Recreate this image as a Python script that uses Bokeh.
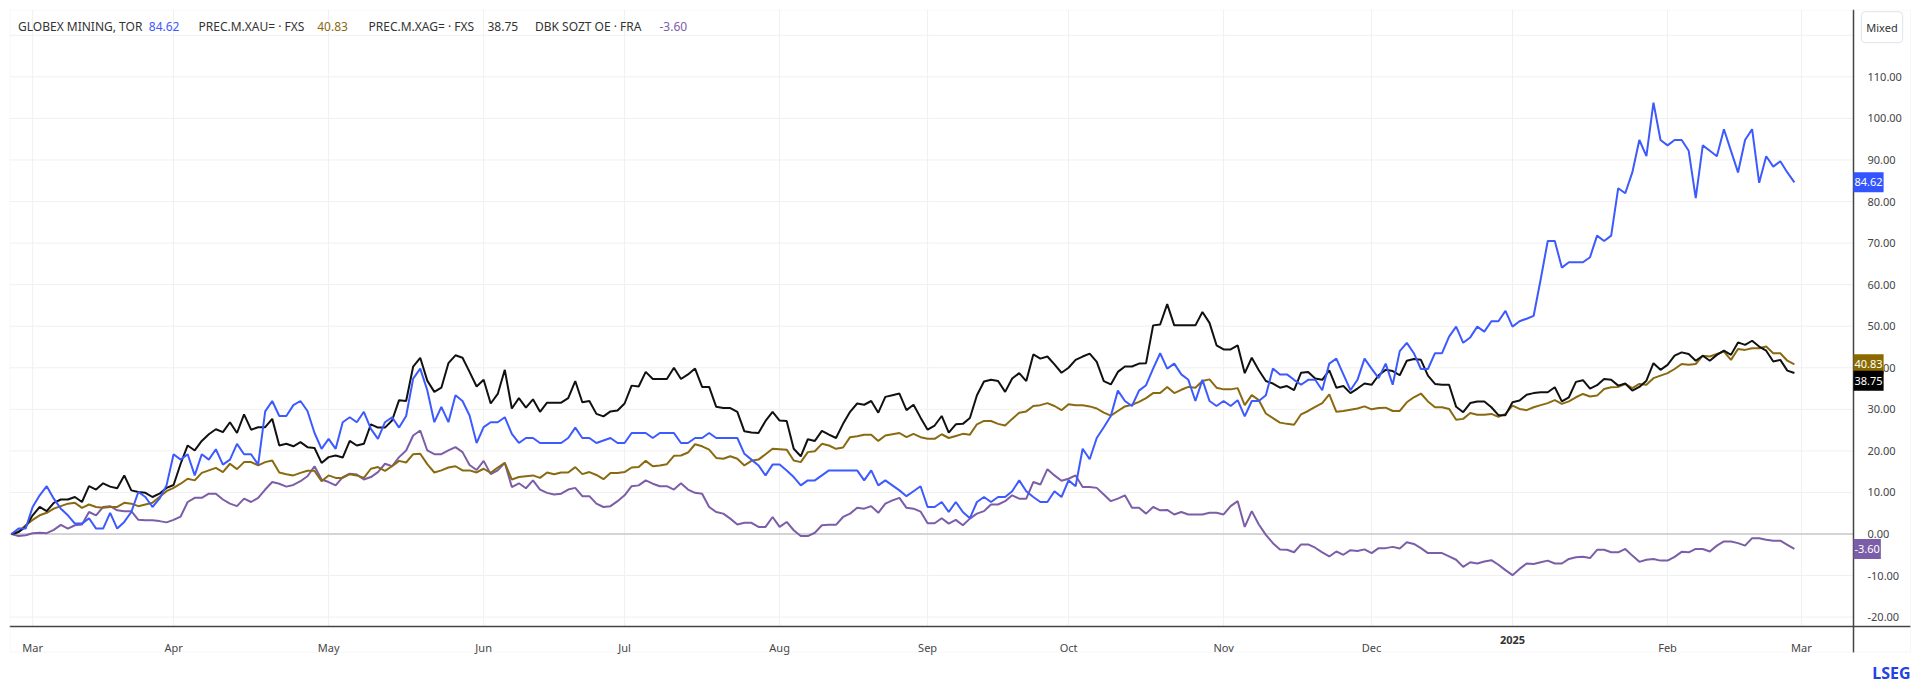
import numpy as np
import pandas as pd
from bokeh.plotting import figure
from bokeh.models import (Range1d, FixedTicker, NumeralTickFormatter, Label,
                          BoxAnnotation, LinearAxis)
from bokeh.embed import file_html
from bokeh.resources import INLINE

# ---------------- data ----------------
# TSX trading calendar (Feb 27 2024 .. Mar 3 2025)
HOLIDAYS = ["2024-03-29", "2024-05-20", "2024-07-01", "2024-08-05", "2024-09-02",
            "2024-10-14", "2024-12-25", "2024-12-26", "2025-01-01", "2025-02-17"]
_all = pd.bdate_range("2024-02-27", "2025-03-03")
trading_days = _all[~_all.isin(pd.to_datetime(HOLIDAYS))]

series_names = ["GLOBEX MINING, TOR", "PREC.M.XAU= \u00b7 FXS", "PREC.M.XAG= \u00b7 FXS", "DBK SOZT OE \u00b7 FRA"]
series_colors = ["#3d5afe", "#8a6a10", "#111111", "#7b5ea7"]

globex = [0, 1.3, 1.3, 6.5, 9.3, 11.5, 8.5, 6.1, 4.5, 2.5, 2.5, 3.8, 1.3, 1.3, 5.1, 1.3, 2.9, 5.3, 10.1, 8.9,
          6.5, 8.5, 11.7, 19.2, 17.9, 19.2, 14.1, 19.2, 17.9, 20.4, 16.7, 17.9, 21.7, 19.2, 19.2, 16.7, 29.5, 32.0, 28.4, 28.4,
          31.0, 32.0, 29.6, 24.3, 20.5, 22.9, 20.5, 26.9, 28.1, 26.9, 29.4, 25.3, 22.9, 26.9, 28.1, 25.6, 28.4, 37.4, 39.8, 34.6,
          26.9, 30.6, 26.9, 33.4, 32.0, 28.5, 21.9, 25.7, 26.9, 26.9, 28.1, 24.1, 21.9, 23.1, 23.1, 21.9, 21.9, 21.9, 21.9, 23.1,
          25.6, 23.1, 23.1, 21.9, 22.5, 23.1, 21.9, 21.9, 24.3, 24.3, 24.3, 23.1, 24.3, 24.3, 24.3, 21.9, 21.9, 23.1, 23.1, 24.3,
          23.1, 23.1, 23.1, 23.1, 19.3, 17.9, 16.5, 14.1, 16.7, 16.7, 15.3, 13.7, 11.7, 12.9, 12.9, 14.1, 15.3, 15.3, 15.3, 15.3,
          15.3, 12.9, 15.3, 11.7, 12.9, 11.7, 10.5, 9.1, 10.3, 11.5, 6.5, 6.5, 7.7, 5.3, 7.7, 5.3, 3.8, 7.7, 8.9, 7.7,
          8.9, 8.9, 10.3, 12.9, 10.3, 8.9, 7.7, 7.7, 10.3, 8.9, 12.9, 11.5, 20.5, 18.0, 23.1, 25.7, 28.4, 34.5, 32.0, 30.8,
          34.5, 35.8, 39.8, 43.5, 39.8, 41.0, 38.4, 37.1, 32.0, 37.1, 32.0, 30.8, 32.0, 30.8, 32.2, 28.3, 32.0, 32.0, 33.4, 39.8,
          38.4, 38.4, 37.1, 35.9, 37.1, 37.1, 34.6, 41.0, 42.2, 38.4, 34.6, 37.1, 42.2, 39.8, 37.5, 41.0, 35.9, 44.0, 46.0, 43.5,
          39.7, 39.7, 43.5, 43.5, 47.5, 49.9, 46.0, 47.3, 49.9, 48.7, 51.2, 51.2, 53.7, 49.9, 51.2, 51.8, 52.5, 61.3, 70.5, 70.5,
          64.1, 65.4, 65.4, 65.4, 66.6, 71.8, 70.5, 71.8, 83.2, 82.0, 87.0, 94.8, 90.9, 103.8, 94.8, 93.5, 94.8, 94.8, 92.2, 80.8,
          93.5, 92.2, 90.9, 97.4, 92.2, 87.0, 94.8, 97.4, 84.5, 90.9, 88.4, 89.7, 87.0, 84.62]

xau = [0, 0.5, 2.1, 3.4, 4.5, 5.1, 6.1, 6.7, 7.3, 7.5, 6.3, 7.1, 6.5, 6.3, 6.5, 6.5, 7.5, 7.3, 6.7, 7.1,
       7.5, 8.9, 10.3, 11.1, 12.1, 13.3, 12.9, 14.7, 15.3, 15.9, 14.9, 16.9, 15.6, 17.3, 17.3, 16.5, 17.3, 17.7, 14.8, 14.4,
       14.1, 14.7, 15.2, 15.2, 12.7, 14.1, 13.5, 13.5, 14.4, 14.1, 13.5, 15.7, 16.1, 15.2, 16.3, 17.6, 17.2, 19.2, 19.3, 16.8,
       14.8, 15.3, 16.0, 16.3, 15.3, 15.3, 14.8, 15.7, 14.7, 16.0, 17.1, 13.1, 13.7, 13.9, 14.1, 13.5, 14.8, 14.4, 14.8, 14.8,
       16.1, 14.4, 14.9, 14.2, 13.2, 14.7, 14.7, 14.9, 16.0, 16.1, 17.6, 16.3, 16.5, 16.8, 18.8, 18.9, 19.6, 21.6, 21.1, 20.3,
       18.3, 18.1, 18.7, 18.1, 16.5, 17.6, 17.9, 19.2, 20.5, 20.4, 20.3, 17.7, 17.3, 19.7, 19.9, 21.7, 21.3, 20.5, 20.8, 23.3,
       23.5, 23.9, 23.9, 22.4, 23.7, 24.0, 24.3, 23.3, 24.1, 23.3, 22.9, 22.9, 24.0, 23.1, 23.6, 24.1, 23.9, 26.4, 27.2, 27.2,
       26.5, 26.1, 27.7, 29.2, 29.5, 30.8, 31.0, 31.5, 30.8, 29.8, 31.2, 31.0, 31.0, 30.7, 30.2, 29.2, 28.5, 29.6, 30.7, 31.1,
       31.8, 32.7, 33.9, 33.9, 35.4, 33.9, 34.7, 35.4, 35.2, 36.8, 37.2, 35.2, 34.8, 34.8, 35.1, 31.0, 33.4, 32.2, 29.0, 27.9,
       26.8, 26.5, 26.3, 28.8, 29.6, 30.6, 31.5, 33.6, 29.4, 29.6, 29.9, 30.2, 30.7, 30.0, 30.3, 30.4, 29.6, 29.6, 31.7, 32.9,
       33.8, 31.9, 30.5, 30.5, 30.1, 27.5, 27.7, 29.1, 28.7, 28.7, 28.9, 28.2, 28.9, 30.9, 30.1, 29.8, 30.5, 31.0, 31.5, 32.2,
       31.3, 31.9, 32.9, 33.7, 33.1, 33.3, 34.9, 35.3, 35.4, 36.1, 35.1, 36.1, 35.9, 37.5, 38.1, 38.7, 39.7, 40.9, 40.7, 40.9,
       42.9, 42.7, 43.3, 43.9, 41.9, 44.5, 44.3, 44.7, 44.7, 45.1, 43.5, 43.5, 41.7, 40.83]

xag = [0, 0.5, 1.7, 4.5, 6.5, 5.5, 7.5, 8.3, 8.3, 8.9, 7.7, 11.5, 10.7, 12.2, 11.4, 11.0, 14.1, 10.5, 10.1, 9.9,
       8.9, 9.7, 11.1, 11.8, 16.9, 21.3, 20.1, 22.4, 24.0, 25.2, 24.5, 26.9, 24.3, 28.8, 25.1, 25.7, 25.7, 27.7, 21.3, 21.7,
       21.1, 22.1, 20.9, 20.7, 17.1, 18.5, 18.9, 18.4, 22.4, 21.3, 21.7, 26.4, 25.6, 25.6, 27.3, 32.2, 32.0, 40.3, 42.4, 36.9,
       34.2, 35.2, 41.1, 43.0, 42.4, 39.0, 35.5, 37.1, 31.4, 33.7, 39.5, 30.2, 32.7, 30.4, 32.4, 29.4, 31.6, 31.6, 31.6, 32.7,
       36.8, 31.7, 32.0, 28.9, 28.3, 29.5, 29.7, 31.4, 35.7, 35.5, 39.0, 37.3, 37.3, 37.3, 40.0, 37.3, 38.4, 39.8, 35.4, 35.4,
       30.6, 30.3, 30.3, 29.4, 24.7, 24.4, 24.3, 27.2, 29.4, 27.3, 27.2, 20.5, 18.7, 22.8, 22.4, 24.8, 23.9, 23.1, 26.5, 29.4,
       31.4, 31.1, 32.0, 29.2, 33.0, 33.4, 33.8, 29.8, 31.1, 28.0, 25.1, 26.1, 28.4, 24.4, 26.4, 26.5, 27.9, 33.4, 36.7, 37.1,
       36.8, 34.2, 37.4, 38.7, 36.8, 43.2, 42.2, 42.7, 40.8, 38.8, 40.0, 41.9, 42.7, 43.4, 41.4, 36.8, 36.0, 39.0, 40.3, 40.3,
       41.0, 41.1, 50.2, 50.4, 55.3, 50.2, 50.2, 50.2, 50.2, 53.4, 50.8, 45.4, 44.4, 44.4, 45.4, 38.7, 42.4, 39.4, 36.8, 36.2,
       35.2, 35.6, 34.6, 38.8, 39.0, 37.4, 37.1, 39.4, 35.2, 35.6, 33.9, 35.0, 36.2, 35.9, 38.2, 39.5, 39.2, 38.2, 41.7, 42.1,
       41.9, 38.1, 36.1, 35.9, 35.9, 30.6, 29.3, 31.5, 31.9, 31.9, 30.5, 28.6, 28.6, 31.7, 32.1, 33.5, 33.9, 34.1, 34.1, 35.3,
       31.9, 32.9, 36.6, 37.0, 35.0, 35.8, 37.3, 37.1, 35.7, 36.2, 34.5, 35.4, 36.9, 41.1, 39.5, 40.7, 42.9, 43.7, 43.3, 41.7,
       42.9, 41.7, 43.1, 44.1, 43.1, 46.1, 45.5, 46.5, 45.1, 44.1, 41.5, 41.9, 39.3, 38.75]

dbk = [0, -0.5, -0.3, 0.2, 0.3, 0.2, 1.0, 2.2, 1.3, 2.1, 2.3, 5.3, 4.5, 6.5, 6.7, 5.7, 5.5, 5.5, 3.4, 3.3,
       3.3, 3.1, 2.8, 3.4, 4.2, 7.7, 8.7, 8.7, 9.7, 9.7, 8.3, 7.3, 6.7, 8.5, 7.7, 8.7, 10.7, 12.5, 12.1, 11.4,
       11.8, 12.7, 13.9, 16.3, 13.1, 12.5, 11.7, 13.7, 14.5, 14.3, 13.1, 13.7, 14.9, 16.9, 16.3, 18.5, 20.1, 23.7, 24.9, 20.1,
       19.2, 19.2, 20.1, 20.9, 19.7, 16.6, 15.4, 17.6, 14.4, 15.3, 17.1, 11.3, 12.2, 11.0, 12.9, 10.7, 9.9, 9.5, 9.7, 10.7,
       11.1, 9.1, 9.1, 7.3, 6.5, 6.7, 7.9, 9.3, 11.5, 11.7, 12.9, 12.1, 11.5, 11.5, 10.7, 12.2, 10.7, 9.9, 9.7, 6.5,
       5.3, 4.9, 3.7, 2.3, 2.7, 2.7, 1.7, 1.7, 4.1, 1.7, 2.9, 0.9, -0.5, -0.5, 0.3, 2.1, 2.2, 2.2, 4.1, 4.9,
       6.3, 6.1, 6.7, 5.1, 7.3, 8.1, 8.7, 6.3, 6.1, 5.4, 2.6, 2.6, 3.8, 2.5, 3.4, 2.1, 3.7, 4.9, 5.5, 7.1,
       7.1, 7.9, 9.3, 8.5, 8.5, 12.5, 11.9, 15.6, 14.1, 12.8, 13.3, 14.1, 11.3, 11.3, 11.1, 9.5, 7.9, 8.5, 9.3, 6.3,
       6.3, 4.9, 6.5, 5.7, 5.8, 4.7, 5.3, 4.7, 4.7, 4.7, 5.1, 5.1, 4.7, 6.7, 7.9, 1.7, 5.5, 2.3, -0.2, -2.2,
       -3.7, -3.8, -4.4, -2.5, -2.5, -3.3, -4.4, -5.4, -4.2, -5.0, -3.9, -4.1, -3.7, -4.6, -3.4, -3.4, -3.1, -3.5, -2.0, -2.4,
       -3.4, -4.6, -4.6, -4.6, -5.4, -6.2, -7.9, -6.8, -7.1, -6.6, -6.3, -7.4, -8.7, -9.9, -8.4, -7.1, -7.2, -6.8, -6.4, -7.1,
       -7.1, -6.0, -5.6, -5.5, -5.8, -3.8, -3.8, -4.4, -4.4, -3.6, -5.2, -6.7, -6.2, -6.0, -6.4, -6.4, -5.5, -4.3, -4.4, -3.6,
       -3.6, -4.2, -2.8, -1.8, -1.8, -2.2, -2.8, -1.0, -1.0, -1.4, -1.6, -1.6, -2.6, -3.6]

y_ticks = list(range(-20, 111, 10))
grid_ticks = list(range(-20, 121, 10))

# ---------------- layout constants (page pixels) ----------------
W, H = 1920, 684
FL, FT = 9, 9                 # frame left / top
FW, FH = W - 2 * FL, H - FT   # frame covers the whole chart box incl. price axis strip
PX_PER_DAY = 7.047
PX_PER_UNIT = 4.156
X0_PIX, Y0_PIX = 11.0, 533.5  # pixel of first trading day / of 0 %
AXIS_X_PIX, AXIS_Y_PIX = 1853.0, 626.0
BOX_RIGHT_PIX, BOX_BOTTOM_PIX = 1910.0, 651.7


def dx(px):
    return (px - X0_PIX) / PX_PER_DAY


def dy(py):
    return (Y0_PIX - py) / PX_PER_UNIT


def sx(px):
    return px - FL


def sy(py):
    return H - py


# ---------------- derived ----------------
n = len(globex)
x = np.arange(n)
month_ticks = [i for i in range(1, len(trading_days))
               if trading_days[i].month != trading_days[i - 1].month]
month_labels = {}
year_ticks = []
for i in month_ticks:
    d = trading_days[i]
    if d.month == 1:
        month_labels[i] = ""
        year_ticks.append((i, str(d.year)))
    else:
        month_labels[i] = d.strftime("%b")

FONT = "Noto Sans"
AX_X, AX_Y = dx(AXIS_X_PIX), dy(AXIS_Y_PIX)
X_START, X_END = dx(FL), dx(FL + FW)
Y_START, Y_END = dy(H), dy(FT)

p = figure(width=W, height=H,
           x_range=Range1d(X_START, X_END), y_range=Range1d(Y_START, Y_END),
           x_axis_location=None, y_axis_location=None,
           output_backend="svg", toolbar_location=None,
           min_border_left=FL, min_border_right=W - FL - FW, min_border_top=FT, min_border_bottom=0,
           background_fill_color="white", border_fill_color="white")
p.outline_line_color = None
p.xgrid.visible = False
p.ygrid.visible = False

# grid lines (stop at the axis lines)
p.segment(x0=month_ticks, y0=[AX_Y] * len(month_ticks), x1=month_ticks, y1=[Y_END] * len(month_ticks),
          line_color="#f0f0f2", line_width=1)
p.segment(x0=[X_START] * len(grid_ticks), y0=grid_ticks, x1=[AX_X] * len(grid_ticks), y1=grid_ticks,
          line_color="#f0f0f2", line_width=1)
p.segment(x0=[X_START], y0=[0], x1=[AX_X], y1=[0], line_color="#c8c8cc", line_width=1.5)

# outer chart box
p.add_layout(BoxAnnotation(left=0.5, right=sx(BOX_RIGHT_PIX), bottom=sy(BOX_BOTTOM_PIX), top=FH - 0.5,
                           left_units="screen", right_units="screen",
                           bottom_units="screen", top_units="screen",
                           fill_alpha=0, line_color="#e0e3eb", line_width=1))

# axes
xaxis = LinearAxis(fixed_location=AX_Y, bounds=(X_START, dx(BOX_RIGHT_PIX)),
                   ticker=FixedTicker(ticks=month_ticks), major_label_overrides=month_labels)
yaxis = LinearAxis(fixed_location=AX_X, bounds=(dy(BOX_BOTTOM_PIX), Y_END),
                   ticker=FixedTicker(ticks=y_ticks), formatter=NumeralTickFormatter(format="0.00"))
for ax in (xaxis, yaxis):
    ax.axis_line_color = "#444444"
    ax.axis_line_width = 1.5
    ax.major_tick_line_color = None
    ax.minor_tick_line_color = None
    ax.major_label_text_font = FONT
    ax.major_label_text_font_size = "11px"
    ax.major_label_text_color = "#444444"
xaxis.major_label_standoff = 7
yaxis.major_label_standoff = 8
p.add_layout(xaxis, "below")
p.add_layout(yaxis, "right")

for (yi, yr) in year_ticks:
    p.add_layout(Label(x=yi, y=sy(639.3), x_units="data", y_units="screen", text=yr,
                       text_align="center", text_baseline="middle", text_font=FONT,
                       text_font_size="11px", text_font_style="bold", text_color="#333333"))

# lines
values = [globex, xau, xag, dbk]
for idx in (3, 1, 2, 0):
    p.line(x, values[idx], line_color=series_colors[idx], line_width=2)

# legend row
name_px = [17.5, 198, 368, 534.5]
val_px = [148.3, 316.7, 487, 659]
val_colors = ["#3d5afe", "#8a6a10", "#333333", "#7b5ea7"]
for k in range(4):
    p.add_layout(Label(x=sx(name_px[k]), y=sy(25.7), x_units="screen", y_units="screen",
                       text=series_names[k], text_font=FONT, text_font_size="12px",
                       text_color="#333333", text_baseline="middle"))
    p.add_layout(Label(x=sx(val_px[k]), y=sy(25.7), x_units="screen", y_units="screen",
                       text=f"{values[k][-1]:.2f}", text_font=FONT, text_font_size="12px",
                       text_color=val_colors[k], text_baseline="middle"))

# last-value tags on the price axis
tag_offsets = [0, 0, -7.8, 0]
box_colors = ["#3355ff", "#8a6a00", "#000000", "#7b5ea7"]
for k in range(4):
    p.add_layout(Label(x=sx(AXIS_X_PIX), y=values[k][-1], x_units="screen", y_units="data",
                       y_offset=tag_offsets[k], text=f"{values[k][-1]:.2f}",
                       text_font=FONT, text_font_size="11px", text_color="white",
                       text_baseline="middle", background_fill_color=box_colors[k],
                       padding=(1, 6)))

# "Mixed" button
p.add_layout(Label(x=sx(1881.5), y=sy(26.7), x_units="screen", y_units="screen",
                   text="Mixed", text_font=FONT, text_font_size="11px", text_color="#333333",
                   text_align="center", text_baseline="middle",
                   border_line_color="#e0e3eb", background_fill_color="white",
                   padding=(5, 8), border_radius=4))

# LSEG mark
p.add_layout(Label(x=sx(1910), y=sy(672.5), x_units="screen", y_units="screen", text="LSEG",
                   text_font=FONT, text_font_size="16px", text_font_style="bold",
                   text_color="#2342e6", text_align="right", text_baseline="middle"))

open("out.html", "w").write(file_html(p, INLINE))
